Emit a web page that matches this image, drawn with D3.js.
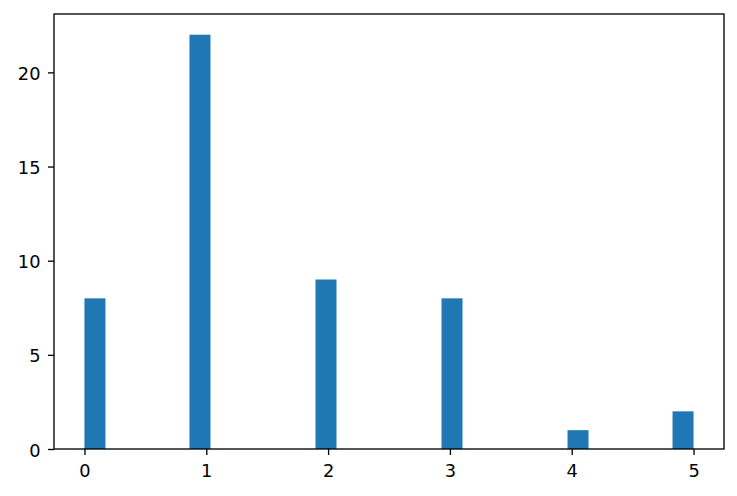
<!DOCTYPE html>
<html>
<head>
<meta charset="utf-8">
<script src="https://cdn.jsdelivr.net/npm/d3@7"></script>
<style>
body { margin: 0; background: #fff; }
.axis text { font-family: "DejaVu Sans", sans-serif; font-size: 17.8px; fill: #000; }
.axis line { stroke: #000; stroke-width: 1.33px; }
</style>
</head>
<body>
<div id="chart"></div>
<script>
// observed values and how often each one occurs
var values = [0, 1, 2, 3, 4, 5];
var counts = [8, 22, 9, 8, 1, 2];
var xTicks = [0, 1, 2, 3, 4, 5];
var yTicks = [0, 5, 10, 15, 20];
var binCount = 29;

// set the dimensions and margins of the graph
var margin = {top: 14, right: 13, bottom: 47, left: 54},
width = 737 - margin.left - margin.right,
height = 496 - margin.top - margin.bottom;

// bin edges span the data range
var lo = d3.min(values), hi = d3.max(values);
var binW = (hi - lo) / binCount;
var bins = values.map(function(v, i) {
    var k = Math.min(Math.floor((v - lo) / binW), binCount - 1);
    return {x0: lo + k * binW, x1: lo + (k + 1) * binW, n: counts[i]};
});

// matplotlib style 5% margins
var pad = (hi - lo) * 0.05;
var x = d3.scaleLinear().domain([lo - pad, hi + pad]).range([0, width]);
var y = d3.scaleLinear().domain([0, d3.max(counts) * 1.05]).range([height, 0]);

var svg = d3.select("#chart")
.append("svg")
.attr("width", 737)
.attr("height", 496)
.append("g")
.attr("transform", "translate(" + margin.left + "," + margin.top + ")");

svg.selectAll(".bar")
    .data(bins)
    .enter().append("rect")
    .attr("class", "bar")
    .attr("x", function(d) { return x(d.x0); })
    .attr("width", function(d) { return x(d.x1) - x(d.x0); })
    .attr("y", function(d) { return y(d.n); })
    .attr("height", function(d) { return y(0) - y(d.n); })
    .attr("fill", "#1f77b4");

var xAxis = d3.axisBottom(x).tickValues(xTicks).tickFormat(d3.format("d"))
    .tickSize(6).tickPadding(9.5);
var yAxis = d3.axisLeft(y).tickValues(yTicks).tickFormat(d3.format("d"))
    .tickSize(6).tickPadding(7.5);

var gx = svg.append("g")
    .attr("class", "axis")
    .attr("transform", "translate(0," + height + ")")
    .call(xAxis);
gx.select(".domain").remove();

var gy = svg.append("g")
    .attr("class", "axis")
    .call(yAxis);
gy.select(".domain").remove();
gy.selectAll("text").attr("dy", "0.4em");

// frame
svg.append("rect")
    .attr("width", width)
    .attr("height", height)
    .attr("fill", "none")
    .attr("stroke", "#000")
    .attr("stroke-width", 1.33);
</script>
</body>
</html>
